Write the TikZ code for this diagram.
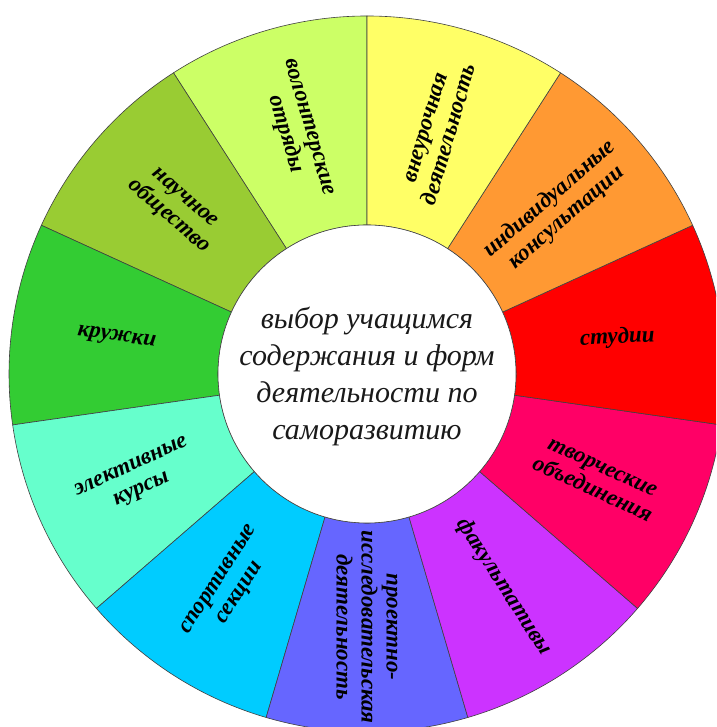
\documentclass[tikz,border=0pt]{standalone}
\usepackage{fontspec}
\setmainfont{Liberation Serif}
\definecolor{cVol}{HTML}{CCFF66}
\definecolor{cNauch}{HTML}{99CC33}
\definecolor{cKruzh}{HTML}{33CC33}
\definecolor{cElek}{HTML}{66FFCC}
\definecolor{cSport}{HTML}{00CCFF}
\definecolor{cProj}{HTML}{6666FF}
\definecolor{cFak}{HTML}{CC33FF}
\definecolor{cTvor}{HTML}{FF0066}
\definecolor{cStud}{HTML}{FF0000}
\definecolor{cInd}{HTML}{FF9933}
\definecolor{cVneur}{HTML}{FFFF66}
\tikzset{
  segline/.style={draw=black!75, line width=0.6pt},
  seglabel/.style={align=center, inner sep=0pt, text=black,
    font=\bfseries\itshape\fontsize{23}{25}\selectfont},
  centerlabel/.style={align=center, inner sep=0pt, text=black!90,
    font=\itshape\fontsize{30}{37}\selectfont}
}
% #1 index, #2 colour, #3 rotation, #4 text
\newcommand{\wheelseg}[4]{%
  \pgfmathsetmacro\aA{90+#1*360/11}%
  \pgfmathsetmacro\aB{90+(#1+1)*360/11}%
  \pgfmathsetmacro\aM{90+(#1+0.5)*360/11}%
  \filldraw[segline, fill=#2] (\aA:149pt) -- (\aA:358pt)
    arc[start angle=\aA, end angle=\aB, radius=358pt]
    -- (\aB:149pt)
    arc[start angle=\aB, end angle=\aA, radius=149pt] -- cycle;
  \node[seglabel, rotate=#3] (s#1) at (\aM:253pt) {#4};
}
\begin{document}
\begin{tikzpicture}
\useasboundingbox (0,0) rectangle (716pt,727pt);
\fill[white] (0,0) rectangle (716pt,727pt);
\clip (0,0) rectangle (716pt,727pt);
\begin{scope}[shift={(367pt,353pt)}]
  \wheelseg{0}{cVol}{-73.64}{волонтерские\\отряды}
  \wheelseg{1}{cNauch}{-40.91}{научное\\общество}
  \wheelseg{2}{cKruzh}{-8.18}{кружки}
  \wheelseg{3}{cElek}{24.55}{элективные\\курсы}
  \wheelseg{4}{cSport}{57.27}{спортивные\\секции}
  \wheelseg{5}{cProj}{-90}{проектно-\\исследовательская\\деятельность}
  \wheelseg{6}{cFak}{-57.27}{факультативы}
  \wheelseg{7}{cTvor}{-24.55}{творческие\\объединения}
  \wheelseg{8}{cStud}{3}{студии}
  \wheelseg{9}{cInd}{40.91}{индивидуальные\\консультации}
  \wheelseg{10}{cVneur}{73.64}{внеурочная\\деятельность}
  \draw[segline, fill=white] (0,0) circle[radius=149pt];
  \node[centerlabel] (ctr) at (0,-2pt) {выбор учащимся\\содержания и форм\\деятельности по\\саморазвитию};
\end{scope}
\end{tikzpicture}
\end{document}
